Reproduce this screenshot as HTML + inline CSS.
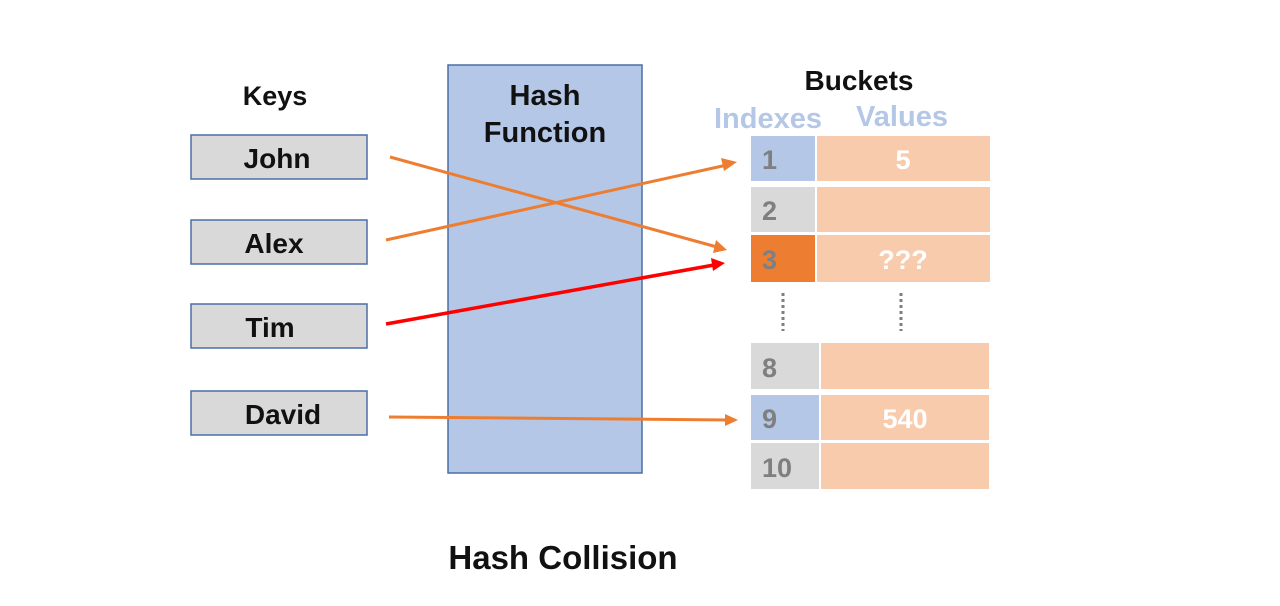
<!DOCTYPE html>
<html><head><meta charset="utf-8"><style>
html,body{margin:0;padding:0;background:#fff;width:1280px;height:606px;overflow:hidden}
text{font-family:"Liberation Sans","Noto Sans CJK KR",sans-serif;font-weight:bold}
</style></head><body>
<svg width="1280" height="606" viewBox="0 0 1280 606" xmlns="http://www.w3.org/2000/svg">
<text x="275" y="105" font-size="27" text-anchor="middle" fill="#111">Keys</text>
<g fill="#d9d9d9" stroke="#4a6fa5" stroke-width="1.5">
<rect x="191" y="135" width="176" height="44"/>
<rect x="191" y="220" width="176" height="44"/>
<rect x="191" y="304" width="176" height="44"/>
<rect x="191" y="391" width="176" height="44"/>
</g>
<g font-size="28" fill="#111" text-anchor="middle">
<text x="277" y="168">John</text>
<text x="274" y="253">Alex</text>
<text x="270" y="337">Tim</text>
<text x="283" y="424">David</text>
</g>
<rect x="448" y="65" width="194" height="408" fill="#b4c7e7" stroke="#4a6fa5" stroke-width="1.5"/>
<text x="545" y="105" font-size="29" text-anchor="middle" fill="#111">Hash</text>
<text x="545" y="142" font-size="29" text-anchor="middle" fill="#111">Function</text>
<text x="859" y="90" font-size="28" text-anchor="middle" fill="#111">Buckets</text>
<text x="768" y="128" font-size="29" text-anchor="middle" fill="#b4c7e7">Indexes</text>
<text x="902" y="126" font-size="29" text-anchor="middle" fill="#b4c7e7">Values</text>
<rect x="751" y="136" width="64" height="45" fill="#b4c7e7"/>
<rect x="817" y="136" width="173" height="45" fill="#f8cbad"/>
<rect x="751" y="187" width="64" height="45" fill="#d9d9d9"/>
<rect x="817" y="187" width="173" height="45" fill="#f8cbad"/>
<rect x="751" y="235" width="64" height="47" fill="#ed7d31"/>
<rect x="817" y="235" width="173" height="47" fill="#f8cbad"/>
<rect x="751" y="343" width="68" height="46" fill="#d9d9d9"/>
<rect x="821" y="343" width="168" height="46" fill="#f8cbad"/>
<rect x="751" y="395" width="68" height="45" fill="#b4c7e7"/>
<rect x="821" y="395" width="168" height="45" fill="#f8cbad"/>
<rect x="751" y="443" width="68" height="46" fill="#d9d9d9"/>
<rect x="821" y="443" width="168" height="46" fill="#f8cbad"/>
<g font-size="27" fill="#7f7f7f">
<text x="762" y="169">1</text>
<text x="762" y="220">2</text>
<text x="762" y="269">3</text>
<text x="762" y="377">8</text>
<text x="762" y="428">9</text>
<text x="762" y="477">10</text>
</g>
<g font-size="27" fill="#fff" text-anchor="middle">
<text x="903" y="169">5</text>
<text x="903" y="269">???</text>
<text x="905" y="428">540</text>
</g>
<line x1="783" y1="293" x2="783" y2="331" stroke="#7f7f7f" stroke-width="3" stroke-dasharray="3,3"/>
<line x1="901" y1="293" x2="901" y2="331" stroke="#7f7f7f" stroke-width="3" stroke-dasharray="3,3"/>
<g stroke="#ed7d31" stroke-width="3" fill="none">
<line x1="390" y1="157" x2="717" y2="247"/>
<line x1="386" y1="240" x2="727" y2="165"/>
<line x1="389" y1="417" x2="728" y2="420"/>
</g>
<path d="M727,250 L713,253 L716,240 Z" fill="#ed7d31"/>
<path d="M737,162 L724,171 L721,158 Z" fill="#ed7d31"/>
<path d="M738,420 L725,426 L725,414 Z" fill="#ed7d31"/>
<line x1="386" y1="324" x2="714" y2="265" stroke="#ff0000" stroke-width="3.5"/>
<path d="M725,263 L713,271 L711,258 Z" fill="#ff0000"/>
<text x="563" y="569" font-size="33" text-anchor="middle" fill="#111">Hash Collision</text>
</svg>
</body></html>
